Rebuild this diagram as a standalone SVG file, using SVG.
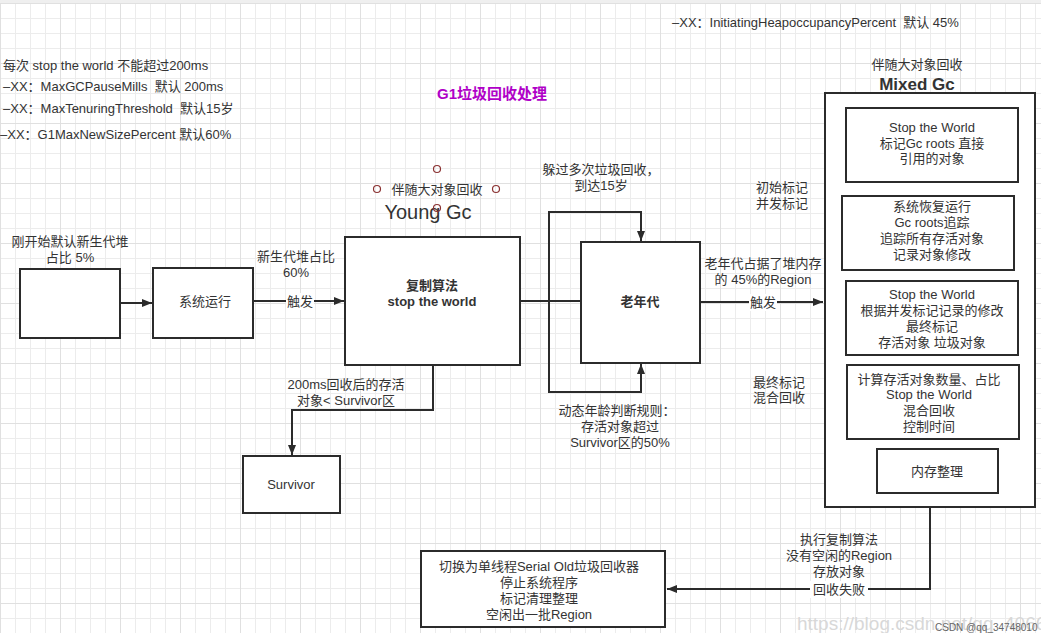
<svg xmlns="http://www.w3.org/2000/svg" width="1041" height="633" viewBox="0 0 1041 633">
<style>
.t{font-family:"Liberation Sans","Noto Sans CJK SC",sans-serif;font-size:13px;fill:#333;white-space:pre}
.c{text-anchor:middle}
.b{font-weight:bold}
.box{fill:#fff;stroke:#2b2b2b;stroke-width:2}
.ln{fill:none;stroke:#2b2b2b;stroke-width:2}
.h{fill:none;stroke:#8b3232;stroke-width:1.2}
</style>
<defs>
<pattern id="grid" x="0" y="3" width="60" height="60" patternUnits="userSpaceOnUse">
<path d="M15.5 0V60M30.5 0V60M45.5 0V60M0 15.5H60M0 30.5H60M0 45.5H60" stroke="#ececec" stroke-width="1" fill="none"/>
<path d="M0.5 0V60M0 0.5H60" stroke="#e0e0e0" stroke-width="1" fill="none"/>
</pattern>
<marker id="arr" viewBox="0 0 10 10" refX="10" refY="5" markerWidth="10" markerHeight="10" markerUnits="userSpaceOnUse" orient="auto">
<path d="M0 1L10 5L0 9Z" fill="#2b2b2b"/>
</marker>
</defs>
<rect width="1041" height="633" fill="#fff"/>
<rect y="3" width="1041" height="630" fill="url(#grid)"/>
<rect width="1041" height="3" fill="#efefef"/>

<g id="notes">
<text class="t" x="3" y="70" xml:space="preserve">每次 stop the world 不能超过200ms</text>
<text class="t" x="3" y="91" xml:space="preserve">–XX：MaxGCPauseMills  默认 200ms</text>
<text class="t" x="3" y="113" xml:space="preserve">–XX：MaxTenuringThreshold  默认15岁</text>
<text class="t" x="0" y="139" xml:space="preserve">–XX：G1MaxNewSizePercent 默认60%</text>
<text class="t" x="672" y="27" xml:space="preserve">–XX：InitiatingHeapoccupancyPercent  默认 45%</text>
<text class="t c b" x="492" y="99" style="font-size:15px;fill:#b000c8">G1垃圾回收处理</text>
</g>

<g id="connectors">
<line class="ln" x1="120" y1="303" x2="152" y2="303" marker-end="url(#arr)"/>
<line class="ln" x1="253" y1="301" x2="344" y2="301" marker-end="url(#arr)"/>
<rect x="286" y="293" width="28" height="17" fill="#fff"/>
<text class="t c" x="300" y="306">触发</text>
<polyline class="ln" points="433,365 433,410 292,410 292,455" marker-end="url(#arr)"/>
<line class="ln" x1="520" y1="301" x2="580" y2="301"/>
<polyline class="ln" points="549,301 549,212 641,212 641,241" marker-end="url(#arr)"/>
<polyline class="ln" points="549,301 549,392 641,392 641,364" marker-end="url(#arr)"/>
<line class="ln" x1="700" y1="302" x2="823" y2="302" marker-end="url(#arr)"/>
<rect x="749" y="294" width="28" height="17" fill="#fff"/>
<text class="t c" x="763" y="307">触发</text>
<polyline class="ln" points="930,507 930,589 667,589" marker-end="url(#arr)"/>
<rect x="810" y="581" width="58" height="17" fill="#fff"/>
<text class="t c" x="839" y="594">回收失败</text>
</g>

<g id="n-start">
<rect class="box" x="20" y="269" width="100" height="69"/>
<text class="t c" x="70" y="246">刚开始默认新生代堆</text>
<text class="t c" x="70" y="262">占比 5%</text>
</g>
<g id="n-run">
<rect class="box" x="153" y="268" width="100" height="70"/>
<text class="t c" x="205" y="306">系统运行</text>
<text class="t c" x="296" y="261">新生代堆占比</text>
<text class="t c" x="296" y="277">60%</text>
</g>
<g id="n-young">
<rect class="box" x="345" y="237" width="175" height="128"/>
<text class="t c b" x="432" y="290">复制算法</text>
<text class="t c b" x="432" y="306">stop the world</text>
<text class="t c" x="437" y="194">伴随大对象回收</text>
<text class="t c" x="428" y="219" style="font-size:20px">Young Gc</text>
<circle class="h" cx="437" cy="169" r="3.5"/>
<circle class="h" cx="377" cy="189" r="3.5"/>
<circle class="h" cx="496" cy="189" r="3.5"/>
<circle class="h" cx="437" cy="208" r="3.5"/>
</g>
<g id="n-survivor">
<rect class="box" x="243" y="456" width="97" height="57"/>
<text class="t c" x="291" y="489">Survivor</text>
<text class="t c" x="346" y="389">200ms回收后的存活</text>
<text class="t c" x="346" y="405">对象&lt; Survivor区</text>
</g>
<g id="n-old">
<rect class="box" x="581" y="242" width="119" height="121"/>
<text class="t c b" x="640" y="306">老年代</text>
<text class="t c" x="601" y="174">躲过多次垃圾回收，</text>
<text class="t c" x="601" y="190">到达15岁</text>
<text class="t c" x="617" y="415">动态年龄判断规则：</text>
<text class="t c" x="620" y="431">存活对象超过</text>
<text class="t c" x="620" y="447">Survivor区的50%</text>
<text class="t c" x="763" y="268">老年代占据了堆内存</text>
<text class="t c" x="763" y="284">的 45%的Region</text>
</g>
<g id="n-mixed">
<rect class="box" x="825" y="93" width="210" height="414"/>
<text class="t c" x="917" y="69">伴随大对象回收</text>
<text class="t c b" x="917" y="90" style="font-size:17px">Mixed Gc</text>
<text class="t c" x="782" y="192">初始标记</text>
<text class="t c" x="782" y="208">并发标记</text>
<text class="t c" x="779" y="387">最终标记</text>
<text class="t c" x="779" y="402">混合回收</text>
</g>
<g id="n-m1">
<rect class="box" x="846" y="108" width="172" height="74"/>
<text class="t c" x="932" y="132">Stop the World</text>
<text class="t c" x="932" y="148">标记Gc roots 直接</text>
<text class="t c" x="932" y="163">引用的对象</text>
</g>
<g id="n-m2">
<rect class="box" x="842" y="196" width="172" height="74"/>
<text class="t c" x="932" y="211">系统恢复运行</text>
<text class="t c" x="932" y="227">Gc roots追踪</text>
<text class="t c" x="932" y="243">追踪所有存活对象</text>
<text class="t c" x="932" y="259">记录对象修改</text>
</g>
<g id="n-m3">
<rect class="box" x="846" y="281" width="172" height="74"/>
<text class="t c" x="932" y="299">Stop the World</text>
<text class="t c" x="932" y="315">根据并发标记记录的修改</text>
<text class="t c" x="932" y="331">最终标记</text>
<text class="t c" x="932" y="347">存活对象 垃圾对象</text>
</g>
<g id="n-m4">
<rect class="box" x="847" y="365" width="172" height="74"/>
<text class="t c" x="929" y="384">计算存活对象数量、占比</text>
<text class="t c" x="929" y="399">Stop the World</text>
<text class="t c" x="929" y="415">混合回收</text>
<text class="t c" x="929" y="431">控制时间</text>
</g>
<g id="n-m5">
<rect class="box" x="877" y="449" width="121" height="44"/>
<text class="t c" x="937" y="476">内存整理</text>
</g>
<g id="n-serial">
<rect class="box" x="421" y="551" width="244" height="76"/>
<text class="t c" x="539" y="571">切换为单线程Serial Old垃圾回收器</text>
<text class="t c" x="539" y="587">停止系统程序</text>
<text class="t c" x="539" y="603">标记清理整理</text>
<text class="t c" x="539" y="619">空闲出一批Region</text>
<text class="t c" x="839" y="544">执行复制算法</text>
<text class="t c" x="839" y="560">没有空闲的Region</text>
<text class="t c" x="839" y="576">存放对象</text>
</g>
<g id="watermark">
<text class="t" x="797" y="630" style="font-size:19px;fill:#d8d8d8">https://blog.csdn.net/qq_40668405</text>
<text class="t" x="935" y="631" style="font-size:10px;fill:#666">CSDN @qq_34748010</text>
</g>
</svg>
